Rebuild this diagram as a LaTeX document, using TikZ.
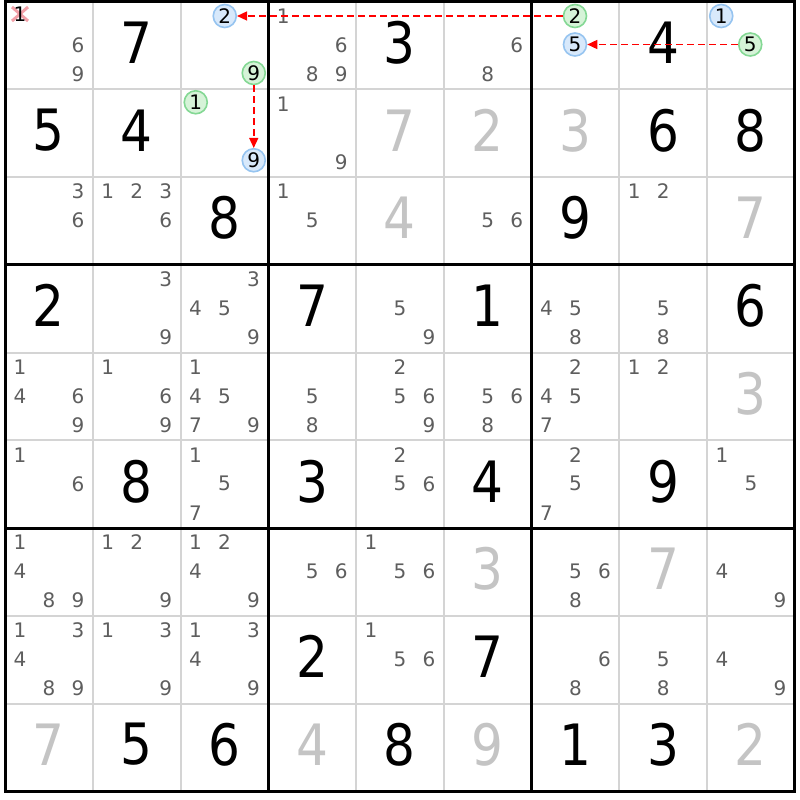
\documentclass[tikz,border=0pt]{standalone}
\usepackage{fontspec}
\newfontfamily\bigfont[FakeStretch=0.88]{DejaVu Sans}
\newfontfamily\smallfont{DejaVu Sans}
\usetikzlibrary{arrows.meta}
\definecolor{candgrey}{HTML}{5E5E5E}
\definecolor{solvedgrey}{HTML}{C4C4C4}
\definecolor{gridgrey}{HTML}{D4D4D4}
\definecolor{cblue}{HTML}{96C4F0}
\definecolor{cbluefill}{HTML}{D8E9FB}
\definecolor{cgreen}{HTML}{84D894}
\definecolor{cgreenfill}{HTML}{D6F3D8}
\definecolor{xpink}{HTML}{F2A0A8}
\definecolor{linkred}{HTML}{FF0000}
\begin{document}
\begin{tikzpicture}[x=1pt,y=-1pt,
  cand/.style={inner sep=0pt, text=candgrey, font=\smallfont\fontsize{20}{20}\selectfont},
  candblack/.style={cand, text=black},
  given/.style={inner sep=0pt, text=black, font=\bigfont\fontsize{57}{57}\selectfont},
  solved/.style={given, text=solvedgrey},
  circ/.style={circle, inner sep=0pt, minimum size=23pt, line width=1.6pt, text=black, font=\smallfont\fontsize{20}{20}\selectfont},
  bluec/.style={circ, draw=cblue, fill=cbluefill},
  greenc/.style={circ, draw=cgreen, fill=cgreenfill},
  thingrid/.style={draw=gridgrey, line width=2pt},
  thickgrid/.style={draw=black, line width=3pt, line cap=rect},
  xmark/.style={draw=xpink, line width=3pt},
  link/.style={draw=linkred, line width=1.5pt, dash pattern=on 7pt off 4pt, -{Triangle[length=10pt,width=9pt]}}
]
\useasboundingbox (0,0) rectangle (800,800);
\fill[white] (0,0) rectangle (800,800);
% thin grid lines
\foreach \i in {1,2,4,5,7,8} {
  \draw[thingrid] ({5+87.75*\i},1.5) -- ({5+87.75*\i},791.25);
  \draw[thingrid] (5,{1.5+87.75*\i}) -- (794.75,{1.5+87.75*\i});
}
% candidates (grey)
\foreach \r/\c/\ds in {
  1/1/{6,9}, 1/4/{1,6,8,9}, 1/6/{6,8},
  2/4/{1,9},
  3/1/{3,6}, 3/2/{1,2,3,6}, 3/4/{1,5}, 3/6/{5,6}, 3/8/{1,2},
  4/2/{3,9}, 4/3/{3,4,5,9}, 4/5/{5,9}, 4/7/{4,5,8}, 4/8/{5,8},
  5/1/{1,4,6,9}, 5/2/{1,6,9}, 5/3/{1,4,5,7,9}, 5/4/{5,8}, 5/5/{2,5,6,9}, 5/6/{5,6,8}, 5/7/{2,4,5,7}, 5/8/{1,2},
  6/1/{1,6}, 6/3/{1,5,7}, 6/5/{2,5,6}, 6/7/{2,5,7}, 6/9/{1,5},
  7/1/{1,4,8,9}, 7/2/{1,2,9}, 7/3/{1,2,4,9}, 7/4/{5,6}, 7/5/{1,5,6}, 7/7/{5,6,8}, 7/9/{4,9},
  8/1/{1,3,4,8,9}, 8/2/{1,3,9}, 8/3/{1,3,4,9}, 8/5/{1,5,6}, 8/7/{6,8}, 8/8/{5,8}, 8/9/{4,9}} {
  \foreach \d in \ds {
    \node[cand] (k\r\c\d) at ({5+87.75*(\c-1)+15+29*mod(\d-1,3)},{1.5+87.75*(\r-1)+14.5+29*floor((\d-1)/3)}) {\d};
  }
}
% givens (black)
\foreach \r/\c/\v in {1/2/7, 1/5/3, 1/8/4, 2/1/5, 2/2/4, 2/8/6, 2/9/8, 3/3/8, 3/7/9,
  4/1/2, 4/4/7, 4/6/1, 4/9/6, 6/2/8, 6/4/3, 6/6/4, 6/8/9, 8/4/2, 8/6/7,
  9/2/5, 9/3/6, 9/5/8, 9/7/1, 9/8/3} {
  \node[given] (g\r\c) at ({5+87.75*(\c-1)+43.9},{1.5+87.75*(\r-1)+41}) {\v};
}
% solved (light grey)
\foreach \r/\c/\v in {2/5/7, 2/6/2, 2/7/3, 3/5/4, 3/9/7, 5/9/3, 7/6/3, 7/8/7,
  9/1/7, 9/4/4, 9/6/9, 9/9/2} {
  \node[solved] (g\r\c) at ({5+87.75*(\c-1)+43.9},{1.5+87.75*(\r-1)+41}) {\v};
}
% thick grid lines
\foreach \i in {0,3,6,9} {
  \draw[thickgrid] ({5+87.75*\i},1.5) -- ({5+87.75*\i},791.25);
  \draw[thickgrid] (5,{1.5+87.75*\i}) -- (794.75,{1.5+87.75*\i});
}
% eliminated candidate r1c1 = 1
\coordinate (x111) at (20,14);
\draw[xmark] ([shift={(-8,-7)}]x111) -- ([shift={(8,7)}]x111);
\draw[xmark] ([shift={(-8,7)}]x111) -- ([shift={(8,-7)}]x111);
\node[candblack] (k111) at (x111) {1};
% highlighted candidates
\node[bluec]  (k132) at (224.75,16) {2};
\node[greenc] (k139) at (253.75,73) {9};
\node[greenc] (k231) at (195.75,102.25) {1};
\node[bluec]  (k239) at (253.75,160.25) {9};
\node[greenc] (k172) at (575,16) {2};
\node[bluec]  (k175) at (575,44.5) {5};
\node[bluec]  (k191) at (721.25,16) {1};
\node[greenc] (k195) at (750.25,44.5) {5};
% links
\draw[link] (k172) -- (k132);
\draw[link] (k139) -- (k239);
\draw[link] (k195) -- (k175);
\end{tikzpicture}
\end{document}
